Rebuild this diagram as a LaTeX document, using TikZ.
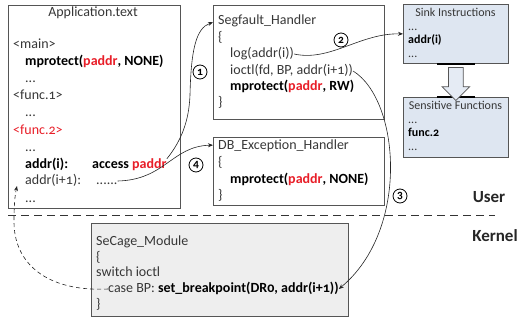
\documentclass[tikz,border=0pt]{standalone}
\usepackage{fontspec}
\setmainfont{Carlito}[Numbers=OldStyle]
\usetikzlibrary{arrows.meta, positioning, calc, shapes.arrows}
\definecolor{frameGray}{RGB}{85,85,85}
\definecolor{textGray}{RGB}{55,55,55}
\definecolor{sinkBlue}{RGB}{222,230,241}
\definecolor{kernelGray}{RGB}{238,238,238}
\definecolor{codeRed}{RGB}{232,30,40}
\newcommand{\pad}{\textcolor{codeRed}{paddr}}

\begin{document}
\begin{tikzpicture}[
        x=1pt, y=-1pt,
        frame/.style={rectangle, draw=frameGray, line width=0.8pt, anchor=north west, inner sep=0pt},
        code/.style={anchor=west, inner sep=0pt, text=textGray, text height=9.5pt, text depth=2.5pt, font=\fontsize{14}{16}\selectfont},
        small/.style={anchor=west, inner sep=0pt, text=textGray, text height=8pt, text depth=2pt, font=\fontsize{12}{13}\selectfont},
        num/.style={circle, draw, line width=0.8pt, inner sep=0pt, minimum size=14pt, font=\fontsize{11.5}{11}\selectfont\bfseries},
        arrow/.style={-{Stealth[length=5pt, width=4pt]}, line width=0.6pt, black!85},
        side/.style={font=\fontsize{17}{18}\selectfont\bfseries, text=black!85}
    ]
        \useasboundingbox (0,0) rectangle (521,320);

        % Boxes
        \node[frame, minimum width=172, minimum height=203] (app) at (8,5) {};
        \node[frame, minimum width=171, minimum height=114] (seg) at (213,5) {};
        \node[frame, minimum width=171, minimum height=68] (db) at (213,137) {};
        \node[frame, fill=sinkBlue, minimum width=105, minimum height=59] (sink) at (403,4) {};
        \node[frame, fill=sinkBlue, minimum width=105, minimum height=60] (sens) at (403,97) {};
        \node[frame, fill=kernelGray, minimum width=257, minimum height=93] (mod) at (91,223) {};

        % Application text
        \node[code, anchor=center] (apptitle) at (93,13) {Application.text};
        \node[code] (main) at (13,45) {<main>};
        \node[code] (mprot) at (25,62) {\textbf{\color{black}mprotect(\pad, NONE)}};
        \node[code] at (25,79) {...};
        \node[code] (f1) at (13,96) {<func.1>};
        \node[code] at (25,113) {...};
        \node[code, text=codeRed] (f2) at (13,131) {<func.2>};
        \node[code] at (25,148) {...};
        \node[code, text=black] (addri) at (25,165) {\textbf{addr(i):}};
        \node[code, text=black] (access) at (92,165) {\textbf{access \pad}};
        \node[code] (addrnext) at (25,181) {addr(i+1):};
        \node[code] (dots) at (96,181) {......};
        \node[code] at (25,199) {...};
        \coordinate (ret) at (17,186);

        % Segfault handler
        \node[code] (segtitle) at (218,21) {Segfault\_Handler};
        \node[code] at (218,38) {\{};
        \node[code] (log) at (230,54) {log(addr(i))};
        \node[code] (ioctl) at (230,71) {ioctl(fd, BP, addr(i+1))};
        \node[code, text=black] at (230,87) {\textbf{mprotect(\pad, RW)}};
        \node[code] at (218,103) {\}};

        % DB handler
        \node[code] (dbtitle) at (218,146) {DB\_Exception\_Handler};
        \node[code] at (218,163) {\{};
        \node[code, text=black] at (230,180) {\textbf{mprotect(\pad, NONE)}};
        \node[code] at (218,196) {\}};

        % Sink and sensitive lists
        \node[small, anchor=center] at (455.5,14) {Sink Instructions};
        \node[small] at (408,28) {...};
        \node[small, text=black] at (408,41) {\textbf{addr(i)}};
        \node[small] at (408,55) {...};
        \node[small, anchor=center] at (455.5,107) {Sensitive Functions};
        \node[small] at (408,121) {...};
        \node[small, text=black] at (408,134) {\textbf{func.2}};
        \node[small] at (408,148) {...};
        \draw[line width=1.6pt] ($(sink.south)+(-19,0)$) -- ($(sink.south)+(19,0)$);
        \draw[line width=1.6pt] ($(sens.north)+(-19,0)$) -- ($(sens.north)+(19,0)$);
        \node[single arrow, draw=frameGray, fill=sinkBlue!80, line width=0.7pt, shape border rotate=270,
              inner sep=7pt, minimum height=33, single arrow head extend=6.5pt]
              (down) at ($(sink.south)!0.5!(sens.north)$) {};

        % Kernel module
        \node[code] (modtitle) at (96,242) {SeCage\_Module};
        \node[code] at (96,258) {\{};
        \node[code] at (96,273) {switch ioctl};
        \node[code] (case) at (108,289) {case BP: \textbf{\color{black}set\_breakpoint(DR0, addr(i+1))}};
        \node[code] at (96,305) {\}};

        % User / kernel split
        \coordinate (splitl) at (8,215);
        \coordinate (splitr) at (495,215);
        \draw[dashed, dash pattern=on 8pt off 5pt, line width=0.8pt, black!80] (splitl) -- (splitr);
        \node[side] (user) at (489,197) {User};
        \node[side] (kernel) at (495,236) {Kernel};

        % Arrows
        \draw[arrow] (access.north east) .. controls (182,140) and (189,120) .. (190,95)
            .. controls (191,50) and (196,28) .. (seg.155);
        \draw[arrow] (log.east) .. controls (330,62) and (360,33) .. (sink.west);
        \draw[arrow] (ioctl.east) .. controls (400,100) and (410,230) .. (case.east);
        \draw[arrow] (dots.east) .. controls (165,180) and (172,146) .. (db.163);
        \draw[arrow, dashed, dash pattern=on 4pt off 3pt] (case.west) .. controls (45,292) and (14,262) .. (14,222)
            .. controls (14,205) and (15,195) .. (ret);

        % Step numbers
        \node[num] (n1) at (200,72) {1};
        \node[num] (n2) at (341,40) {2};
        \node[num] (n3) at (400,196) {3};
        \node[num] (n4) at (196,165) {4};
    \end{tikzpicture}
\end{document}
